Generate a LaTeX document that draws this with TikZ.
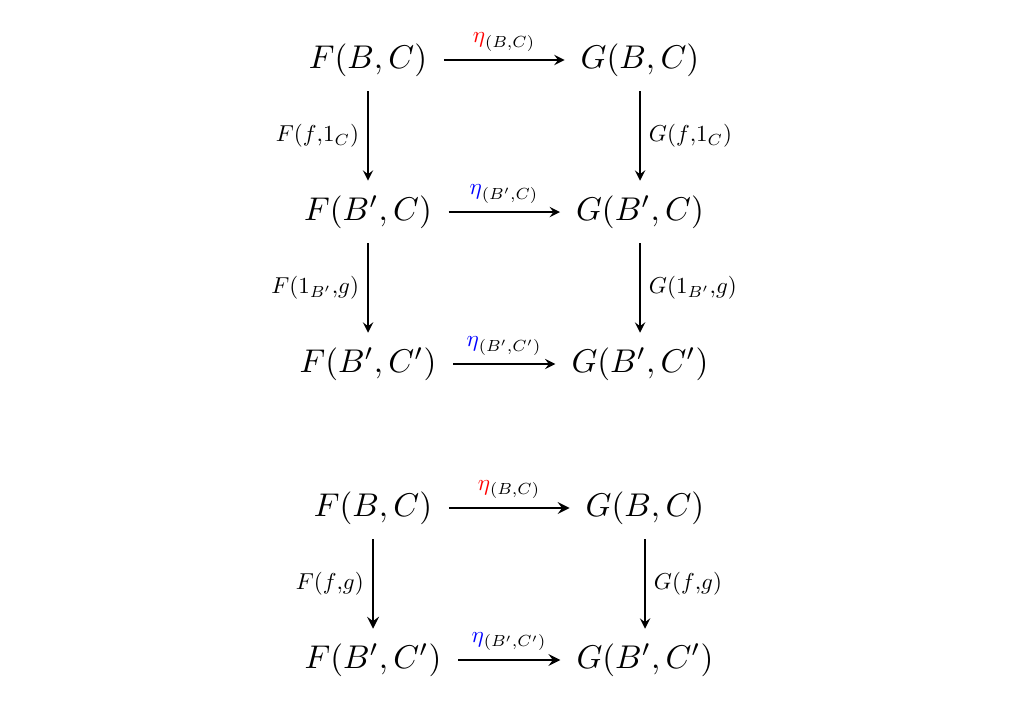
\documentclass[tikz,border=0pt]{standalone}
\usepackage{amsmath, tikz, color}
\usetikzlibrary{arrows}

\begin{document}
\begin{tikzpicture}
    [x=0.304pt, y=-0.304pt, >=stealth,
    obj/.style={inner sep=4.3pt},
    lbl/.style={scale=0.7, transform shape, inner sep=3.7pt},
    hor/.style={->, shorten <=0.6pt, shorten >=0.4pt}]
    \useasboundingbox (0,0) rectangle (1020,711);
    % first diagram
    \node[obj] (FBC) at (368, 60)  {$F(B,C)$};
    \node[obj] (GBC) at (640, 60)  {$G(B,C)$};
    \node[obj] (FB'C) at (368, 212)  {$F(B',C)$};
    \node[obj] (GB'C) at (640, 212)  {$G(B',C)$};
    \node[obj] (FB'C') at (368, 364)  {$F(B',C')$};
    \node[obj] (GB'C') at (640, 364)  {$G(B',C')$};
    \draw[hor] (FBC) -- node[lbl, above] {${\color{red}\eta}_{(B,C)}$} (GBC);
    \draw[hor] (FB'C) -- node[lbl, above] {${\color{blue}\eta}_{(B',C)}$} (GB'C);
    \draw[hor] (FB'C') -- node[lbl, above] {${\color{blue}\eta}_{(B',C')}$} (GB'C');
    \draw[->] (FBC) -- node[lbl, left] {$F(f{,}1_C)$} (FB'C);
    \draw[->] (GBC) -- node[lbl, right] {$G(f{,}1_C)$} (GB'C);
    \draw[->] (FB'C) -- node[lbl, left] {$F(1_{B'}{,}g)$} (FB'C');
    \draw[->] (GB'C) -- node[lbl, right] {$G(1_{B'}{,}g)$} (GB'C');
    % second diagram
    \node[obj] (fBC) at (373, 508)  {$F(B,C)$};
    \node[obj] (gBC) at (645, 508)  {$G(B,C)$};
    \node[obj] (fB'C') at (373, 660)  {$F(B',C')$};
    \node[obj] (gB'C') at (645, 660)  {$G(B',C')$};
    \draw[hor, semithick] (fBC) -- node[lbl, above] {${\color{red}\eta}_{(B,C)}$} (gBC);
    \draw[hor, semithick] (fB'C') -- node[lbl, above] {${\color{blue}\eta}_{(B',C')}$} (gB'C');
    \draw[->, semithick] (fBC) -- node[lbl, left] {$F(f{,}g)$} (fB'C');
    \draw[->] (gBC) -- node[lbl, right] {$G(f{,}g)$} (gB'C');
\end{tikzpicture}
\end{document}
